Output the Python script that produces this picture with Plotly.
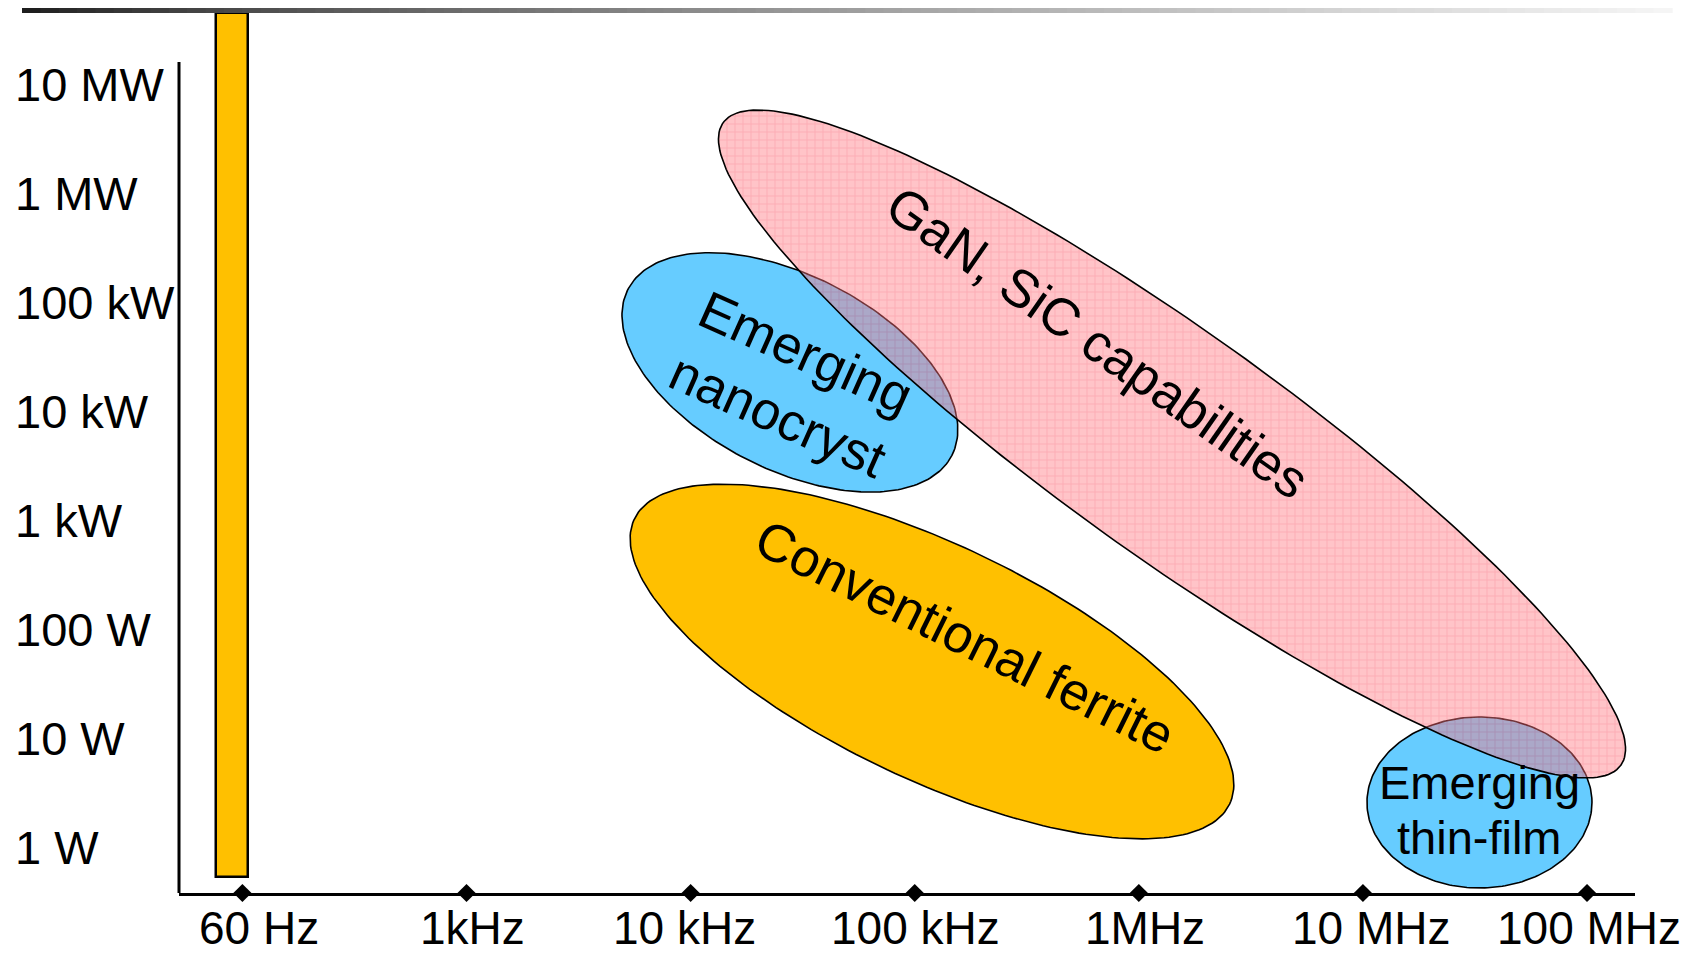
import numpy as np
import plotly.graph_objects as go

# ---------------- data ----------------
freq_labels = ["60 Hz", "1kHz", "10 kHz", "100 kHz", "1MHz", "10 MHz", "100 MHz"]
freq_pos = [0, 1, 2, 3, 4, 5, 6]                      # one slot per decade
power_labels = ["1 W", "10 W", "100 W", "1 kW", "10 kW", "100 kW", "1 MW", "10 MW"]
power_decades = [0, 1, 2, 3, 4, 5, 6, 7]              # log10(W)

# 60 Hz (line-frequency) band
band_pos = [-0.047]
band_low = [-0.266]     # log10 W
band_high = [7.653]     # log10 W

# technology regions (centre in decade slot / log10 W)
region_names = ["Conventional ferrite", "Emerging nanocryst", "Emerging thin-film", "GaN, SiC capabilities"]
region_x = [3.077, 2.443, 5.520, 4.148]
region_y = [1.709, 4.359, 0.417, 3.703]

# ---------------- style ----------------
W, H = 1689, 945          # page body adds an 8 px offset
ML, MR, MT, MB = 171, 62, 0, 60
X_RANGE = [-0.283, 6.214]
Y_RANGE = [-0.4125, 7.699]
Y_AXIS_TOP = 7.204
PW, PH = W - ML - MR, H - MT - MB
PX_X = PW / (X_RANGE[1] - X_RANGE[0])
PX_Y = PH / (Y_RANGE[1] - Y_RANGE[0])

FONT = "Liberation Sans, Arial, sans-serif"
ORANGE = "#FFC000"
BLUE = "#66CCFF"
XLABEL_SHIFT = [17, 6, -6, 1, 6, 8, 2]   # px nudges of the frequency labels

# ellipse geometry in screen pixels: semi-major, semi-minor, clockwise angle
ell_style = {
    "Conventional ferrite": dict(a=330, b=117, ang=25.6, fill=ORANGE),
    "Emerging nanocryst": dict(a=182, b=97, ang=27.1, fill=BLUE),
    "Emerging thin-film": dict(a=112.5, b=85.5, ang=0.0, fill=BLUE),
    "GaN, SiC capabilities": dict(a=552, b=112, ang=35.6, fill=None),
}


def ellipse(cx, cy, a, b, ang, n=240):
    t = np.linspace(0, 2 * np.pi, n)
    th = np.deg2rad(ang)
    dx = a * np.cos(t) * np.cos(th) - b * np.sin(t) * np.sin(th)
    dy = a * np.cos(t) * np.sin(th) + b * np.sin(t) * np.cos(th)
    return cx + dx / PX_X, cy - dy / PX_Y


fig = go.Figure()

# 60 Hz band
fig.add_trace(go.Bar(
    x=band_pos, y=[h - l for h, l in zip(band_high, band_low)], base=band_low,
    width=0.143, marker=dict(color=ORANGE, line=dict(color="black", width=2.5)),
    hoverinfo="skip", showlegend=False))

# solid regions
for name, cx, cy in zip(region_names, region_x, region_y):
    st = ell_style[name]
    if st["fill"] is None:
        continue
    ex, ey = ellipse(cx, cy, st["a"], st["b"], st["ang"])
    fig.add_trace(go.Scatter(
        x=ex, y=ey, mode="lines", fill="toself", fillcolor=st["fill"],
        line=dict(color="black", width=1.6), hoverinfo="skip", showlegend=False))

# translucent hatched GaN/SiC region
i = region_names.index("GaN, SiC capabilities")
st = ell_style[region_names[i]]
ex, ey = ellipse(region_x[i], region_y[i], st["a"], st["b"], st["ang"])
fig.add_trace(go.Scatter(
    x=ex, y=ey, mode="none", fill="toself", fillcolor="rgb(255,120,130)",
    fillpattern=dict(shape="+", bgcolor="rgb(255,125,135)", fgcolor="rgb(245,25,45)",
                     size=8, solidity=0.22),
    opacity=0.45, hoverinfo="skip", showlegend=False))
fig.add_trace(go.Scatter(
    x=ex, y=ey, mode="lines", line=dict(color="black", width=1.6),
    hoverinfo="skip", showlegend=False))

# tick diamonds on the frequency axis
fig.add_trace(go.Scatter(
    x=freq_pos, y=[Y_RANGE[0]] * len(freq_pos), mode="markers",
    marker=dict(symbol="diamond", size=14, color="black"),
    cliponaxis=False, hoverinfo="skip", showlegend=False))

# region labels
label_style = [
    dict(text="GaN, SiC capabilities", x=3.817, y=4.629, angle=35, size=53),
    dict(text="Conventional ferrite", x=3.224, y=1.934, angle=26.4, size=53),
    dict(text="Emerging<br>nanocryst", x=2.452, y=4.253, angle=24, size=53),
    dict(text="Emerging", x=5.520, y=0.596, angle=0, size=47),
    dict(text="thin-film", x=5.520, y=0.092, angle=0, size=47),
]
annotations = []
for ls in label_style:
    annotations.append(dict(
        text=ls["text"], x=ls["x"], y=ls["y"], xref="x", yref="y",
        textangle=ls["angle"], showarrow=False,
        font=dict(family=FONT, size=ls["size"], color="black")))

# power labels (left aligned)
for lab, d in zip(power_labels, power_decades):
    annotations.append(dict(
        text=lab, x=(5 - ML) / PW, xref="paper", xanchor="left",
        y=d, yref="y", yanchor="middle", showarrow=False,
        font=dict(family=FONT, size=47, color="black")))

# frequency labels
for lab, p, sh in zip(freq_labels, freq_pos, XLABEL_SHIFT):
    annotations.append(dict(
        text=lab, x=p, xref="x", xshift=sh, y=0, yref="paper",
        yanchor="middle", yshift=-35, showarrow=False, borderpad=0,
        font=dict(family=FONT, size=46, color="black")))

# header gradient bar
shapes = []
N = 90
x_start, x_end = (14 - ML) / PW, (1664 - ML) / PW
for k in range(N):
    t = k / (N - 1)
    v = int(30 + 215 * t ** 0.75)
    shapes.append(dict(
        type="rect", xref="paper", yref="paper",
        x0=x_start + (x_end - x_start) * k / N,
        x1=x_start + (x_end - x_start) * (k + 1) / N + 0.0005,
        y0=(PH - 5) / PH, y1=1.0,
        fillcolor=f"rgb({v},{v},{v})", line=dict(width=0), layer="above"))

# power axis line
shapes.append(dict(type="line", xref="paper", x0=0, x1=0, yref="y",
                   y0=Y_RANGE[0], y1=Y_AXIS_TOP, line=dict(color="black", width=3)))

fig.update_layout(
    width=W, height=H,
    margin=dict(l=ML, r=MR, t=MT, b=MB, autoexpand=False),
    plot_bgcolor="white", paper_bgcolor="white",
    bargap=0, showlegend=False,
    annotations=annotations, shapes=shapes,
    xaxis=dict(range=X_RANGE, tickvals=freq_pos, showticklabels=False,
               showline=True, linecolor="black", linewidth=3, mirror=False,
               showgrid=False, zeroline=False, ticks="", fixedrange=True),
    yaxis=dict(range=Y_RANGE, showline=False, showgrid=False, zeroline=False,
               showticklabels=False, ticks="", fixedrange=True),
)

fig.write_html("out.html")
